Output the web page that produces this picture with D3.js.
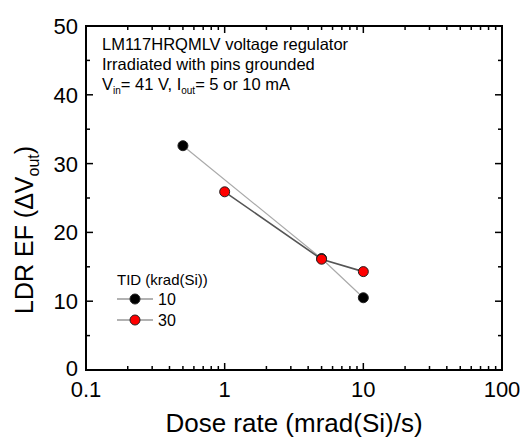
<!DOCTYPE html>
<html>
<head>
<meta charset="utf-8">
<script src="https://cdn.jsdelivr.net/npm/d3@7"></script>
<style>
  body { margin: 0; background: #fff; }
  text { font-family: "Liberation Sans", Arial, sans-serif; }
</style>
</head>
<body>
<script>
var w = 531;
var h = 440;
var margin = { top: 26, right: 29, bottom: 70, left: 86 };
var iw = w - margin.left - margin.right;
var ih = h - margin.top - margin.bottom;

// data
var doseRate10 = [0.5, 5, 10];
var ldr10 = [32.6, 16.2, 10.5];
var doseRate30 = [1, 5, 10];
var ldr30 = [25.9, 16.1, 14.3];
var seriesNames = ["10", "30"];
var xTicks = [0.1, 1, 10, 100];
var yTicks = [0, 10, 20, 30, 40, 50];

var series = [
    { name: seriesNames[0], x: doseRate10, y: ldr10, fill: "#000", line: "#aaa", lw: 1.2 },
    { name: seriesNames[1], x: doseRate30, y: ldr30, fill: "#f00", line: "#555", lw: 1.6 }
];

var svg = d3.select("body")
    .append("svg")
    .attr("width", w)
    .attr("height", h);

var g = svg.append("g")
    .attr("transform", "translate(" + margin.left + "," + margin.top + ")");

var xScale = d3.scaleLog().domain([0.1, 100]).range([0, iw]);
var yScale = d3.scaleLinear().domain([0, 50]).range([ih, 0]);

// minor ticks
var xMinor = [];
[0.1, 1, 10].forEach(function (d) {
    for (var k = 2; k <= 9; k++) xMinor.push(d * k);
});
var yMinor = d3.range(5, 50, 10);

function drawTicks(vals, len, scale, horiz) {
    vals.forEach(function (v) {
        var p = scale(v);
        if (horiz) {
            g.append("line").attr("x1", p).attr("x2", p).attr("y1", ih).attr("y2", ih - len)
                .attr("stroke", "#000").attr("stroke-width", 1.5);
            g.append("line").attr("x1", p).attr("x2", p).attr("y1", 0).attr("y2", len)
                .attr("stroke", "#000").attr("stroke-width", 1.5);
        } else {
            g.append("line").attr("y1", p).attr("y2", p).attr("x1", 0).attr("x2", len)
                .attr("stroke", "#000").attr("stroke-width", 1.5);
            g.append("line").attr("y1", p).attr("y2", p).attr("x1", iw).attr("x2", iw - len)
                .attr("stroke", "#000").attr("stroke-width", 1.5);
        }
    });
}
drawTicks(xTicks, 7, xScale, true);
drawTicks(xMinor, 4, xScale, true);
drawTicks(yTicks, 7, yScale, false);
drawTicks(yMinor, 4, yScale, false);

// frame
g.append("rect")
    .attr("width", iw)
    .attr("height", ih)
    .attr("fill", "none")
    .attr("stroke", "#000")
    .attr("stroke-width", 2);

// tick labels
g.selectAll(".xl")
    .data(xTicks)
    .enter()
    .append("text")
    .attr("x", function (d) { return xScale(d); })
    .attr("y", ih + 27)
    .attr("text-anchor", "middle")
    .attr("font-size", 22)
    .text(function (d) { return d; });

g.selectAll(".yl")
    .data(yTicks)
    .enter()
    .append("text")
    .attr("x", -8)
    .attr("y", function (d) { return yScale(d) + (d === 0 ? 6 : 8); })
    .attr("text-anchor", "end")
    .attr("font-size", 22)
    .text(function (d) { return d; });

// axis titles
svg.append("text")
    .attr("x", margin.left + iw / 2)
    .attr("y", 432)
    .attr("text-anchor", "middle")
    .attr("font-size", 26)
    .text("Dose rate (mrad(Si)/s)");

var yt = svg.append("text")
    .attr("transform", "translate(33,314) rotate(-90)")
    .attr("font-size", 25);
yt.append("tspan").text("LDR EF (\u0394V");
yt.append("tspan").attr("font-size", 16).attr("dy", 6).text("out");
yt.append("tspan").attr("dy", -6).text(")");

// series lines and markers
var line = d3.line()
    .x(function (d) { return xScale(d[0]); })
    .y(function (d) { return yScale(d[1]); });

series.forEach(function (s) {
    var pts = d3.zip(s.x, s.y);
    g.append("path")
        .datum(pts)
        .attr("d", line)
        .attr("fill", "none")
        .attr("stroke", s.line)
        .attr("stroke-width", s.lw);
});
series.forEach(function (s) {
    var pts = d3.zip(s.x, s.y);
    g.selectAll(null)
        .data(pts)
        .enter()
        .append("circle")
        .attr("cx", function (d) { return xScale(d[0]); })
        .attr("cy", function (d) { return yScale(d[1]); })
        .attr("r", 5)
        .attr("fill", s.fill)
        .attr("stroke", "#222")
        .attr("stroke-width", 1);
});

// annotation
var note = g.append("text")
    .attr("x", 16)
    .attr("font-size", 16.5);
note.append("tspan").attr("x", 16).attr("y", 24).text("LM117HRQMLV voltage regulator");
note.append("tspan").attr("x", 16).attr("y", 44).text("Irradiated with pins grounded");
var l3 = g.append("text").attr("x", 16).attr("y", 64).attr("font-size", 16.5);
l3.append("tspan").text("V");
l3.append("tspan").attr("font-size", 10).attr("dy", 4).text("in");
l3.append("tspan").attr("dy", -4).text("= 41 V, I");
l3.append("tspan").attr("font-size", 10).attr("dy", 4).text("out");
l3.append("tspan").attr("dy", -4).text("= 5 or 10 mA");

// legend
var lg = g.append("g").attr("transform", "translate(31,259)");
lg.append("text").attr("x", 0).attr("y", 0).attr("font-size", 15).text("TID (krad(Si))");
series.forEach(function (s, i) {
    var yy = 14 + i * 21;
    lg.append("line").attr("x1", 0).attr("x2", 36).attr("y1", yy).attr("y2", yy)
        .attr("stroke", "#666").attr("stroke-width", 1.2);
    lg.append("circle").attr("cx", 18).attr("cy", yy).attr("r", 5)
        .attr("fill", s.fill).attr("stroke", "#222").attr("stroke-width", 1);
    lg.append("text").attr("x", 41).attr("y", yy + 6).attr("font-size", 16).text(s.name);
});
</script>
</body>
</html>
